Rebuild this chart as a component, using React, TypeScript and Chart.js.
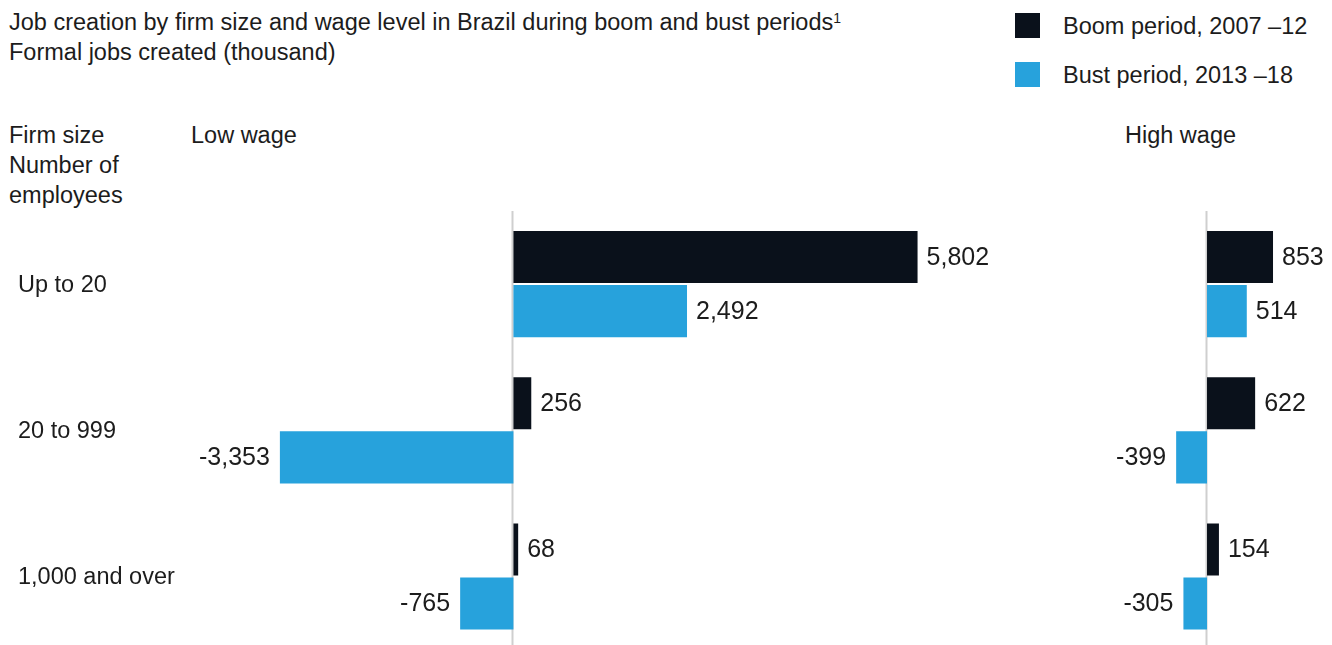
import React, { useEffect, useRef } from "react";
import { Chart, registerables } from "chart.js";

Chart.register(...registerables);

const categories = ["Up to 20", "20 to 999", "1,000 and over"];
const seriesNames = ["Boom period, 2007 –12", "Bust period, 2013 –18"];
const lowBoom = [5802, 256, 68];
const lowBust = [2492, -3353, -765];
const highBoom = [853, 622, 154];
const highBust = [514, -399, -305];

const BLACK = "#0a111b";
const BLUE = "#27a2dc";
const TEXT = "#1c1c1c";
const FONT = "'Liberation Sans', Arial, sans-serif";

const fmt = (v: number) => v.toLocaleString("en-US");

const labelPlugin = {
  id: "barLabels",
  afterDatasetsDraw(chart: any) {
    const ctx = chart.ctx;
    ctx.save();
    ctx.font = `25px ${FONT}`;
    ctx.fillStyle = TEXT;
    ctx.textBaseline = "middle";
    chart.data.datasets.forEach((ds: any, di: number) => {
      const meta = chart.getDatasetMeta(di);
      meta.data.forEach((bar: any, i: number) => {
        const v = ds.data[i];
        if (v >= 0) {
          ctx.textAlign = "left";
          ctx.fillText(fmt(v), bar.x + 9, bar.y + 1);
        } else {
          ctx.textAlign = "right";
          ctx.fillText(fmt(v), bar.x - 10, bar.y + 1);
        }
      });
    });
    ctx.restore();
  },
};

const categoryLabelPlugin = {
  id: "categoryLabels",
  afterDraw(chart: any) {
    if (!chart.options.plugins.categoryLabels?.show) return;
    const ctx = chart.ctx;
    const y = chart.scales.y;
    ctx.save();
    ctx.font = `23.5px ${FONT}`;
    ctx.fillStyle = TEXT;
    ctx.textBaseline = "middle";
    ctx.textAlign = "left";
    chart.data.labels.forEach((lab: string, i: number) => {
      ctx.fillText(lab, 18, y.getPixelForValue(i) + 1);
    });
    ctx.restore();
  },
};

const zeroLinePlugin = {
  id: "zeroLine",
  beforeDatasetsDraw(chart: any) {
    const ctx = chart.ctx;
    const x = Math.round(chart.scales.x.getPixelForValue(0)) - 0.5;
    ctx.save();
    ctx.strokeStyle = "#cfcfcf";
    ctx.lineWidth = 2;
    ctx.beginPath();
    ctx.moveTo(x, chart.chartArea.top);
    ctx.lineTo(x, chart.chartArea.bottom);
    ctx.stroke();
    ctx.restore();
  },
};

function makeConfig(boom: number[], bust: number[], xmin: number, xmax: number, showCats: boolean, padding: any) {
  return {
    type: "bar" as const,
    data: {
      labels: categories,
      datasets: [
        { label: seriesNames[0], data: boom, backgroundColor: BLACK, categoryPercentage: 0.74, barPercentage: 0.963 },
        { label: seriesNames[1], data: bust, backgroundColor: BLUE, categoryPercentage: 0.74, barPercentage: 0.963 },
      ],
    },
    options: {
      indexAxis: "y" as const,
      animation: false as const,
      responsive: false,
      maintainAspectRatio: false,
      layout: { padding },
      plugins: { legend: { display: false }, tooltip: { enabled: false }, categoryLabels: { show: showCats } },
      scales: {
        x: { display: false, min: xmin, max: xmax },
        y: { display: false, offset: true },
      },
    },
    plugins: [zeroLinePlugin, labelPlugin, categoryLabelPlugin],
  };
}

function BarPanel(props: { boom: number[]; bust: number[]; xmin: number; xmax: number; showCats: boolean; padding: any; left: number; width: number }) {
  const ref = useRef<HTMLCanvasElement>(null);
  useEffect(() => {
    const chart = new Chart(ref.current as HTMLCanvasElement, makeConfig(props.boom, props.bust, props.xmin, props.xmax, props.showCats, props.padding) as any);
    return () => chart.destroy();
  }, []);
  return (
    <canvas
      ref={ref}
      width={props.width}
      height={460}
      style={{ position: "absolute", left: props.left, top: 200, width: props.width, height: 460 }}
    />
  );
}

const FS = 23.5;

const txt = (left: number, top: number, s: string) => (
  <div style={{ position: "absolute", left, top, fontSize: FS, lineHeight: "30px", color: TEXT, whiteSpace: "nowrap" }}>{s}</div>
);

export default function App() {
  return (
    <div style={{ position: "fixed", left: 0, top: 0, width: 1332, height: 645, overflow: "hidden", background: "#fff", fontFamily: FONT }}>
      <div style={{ position: "absolute", left: 9, top: 7, fontSize: FS, lineHeight: "30px", color: TEXT, whiteSpace: "nowrap" }}>
        Job creation by firm size and wage level in Brazil during boom and bust periods<sup style={{ fontSize: 14, verticalAlign: "top", lineHeight: "22px" }}>1</sup>
        <br />
        Formal jobs created (thousand)
      </div>
      <div style={{ position: "absolute", left: 1015, top: 13, width: 25, height: 25, background: BLACK }} />
      {txt(1063, 11, seriesNames[0])}
      <div style={{ position: "absolute", left: 1015, top: 62, width: 25, height: 25, background: BLUE }} />
      {txt(1063, 60, seriesNames[1])}
      <div style={{ position: "absolute", left: 9, top: 120, fontSize: FS, lineHeight: "30px", color: TEXT }}>
        Firm size<br />Number of<br />employees
      </div>
      {txt(191, 120, "Low wage")}
      {txt(1125, 120, "High wage")}
      <BarPanel boom={lowBoom} bust={lowBust} xmin={-4500} xmax={7000} showCats={true} padding={{ left: 200, right: 0, top: 11, bottom: 10.4 }} left={0} width={1001} />
      <BarPanel boom={highBoom} bust={highBust} xmin={-600} xmax={1300} showCats={false} padding={{ left: 60.6, right: 24.4, top: 11, bottom: 10.4 }} left={1100} width={232} />
    </div>
  );
}
